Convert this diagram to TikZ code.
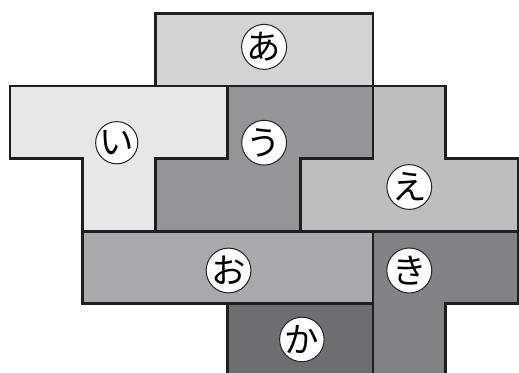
\documentclass[tikz,border=0pt]{standalone}
\usepackage{fontspec}
\newfontfamily\jpfont{Noto Sans CJK JP}
\usepackage{xcolor}
\usepackage{tikz}
\definecolor{shadeA}{HTML}{D1D3D4}
\definecolor{shadeI}{HTML}{E6E7E8}
\definecolor{shadeU}{HTML}{939598}
\definecolor{shadeE}{HTML}{BCBEC0}
\definecolor{shadeO}{HTML}{A7A9AC}
\definecolor{shadeKa}{HTML}{6D6E71}
\definecolor{shadeKi}{HTML}{808285}
\tikzset{
  piece/.style = {draw=black!88, line width=1.1pt, line join=miter},
  tag/.style   = {circle, draw=black!85, line width=0.4pt, fill=white,
                  minimum size=0.54cm, inner sep=0pt,
                  font=\jpfont\fontsize{13.5}{13.5}\selectfont},
}

\begin{document}
\begin{tikzpicture}

  % ── frame ──────────────────────────────────────────────────────────────────
  \useasboundingbox (-0.138,0.186) rectangle (7.011,-4.952);
  \clip (-0.138,0.186) rectangle (7.011,-4.952);

  % ── pieces ─────────────────────────────────────────────────────────────────
  \draw[piece, fill=shadeA]  (2,0) rectangle (5,-1);
  \draw[piece, fill=shadeI]  (0,-1) -- (3,-1) -- (3,-2) -- (2,-2) -- (2,-3)
                             -- (1,-3) -- (1,-2) -- (0,-2) -- cycle;
  \draw[piece, fill=shadeU]  (3,-1) -- (5,-1) -- (5,-2) -- (4,-2) -- (4,-3)
                             -- (2,-3) -- (2,-2) -- (3,-2) -- cycle;
  \draw[piece, fill=shadeE]  (5,-1) -- (6,-1) -- (6,-2) -- (7,-2) -- (7,-3)
                             -- (4,-3) -- (4,-2) -- (5,-2) -- cycle;
  \draw[piece, fill=shadeO]  (1,-3) rectangle (5,-4);
  \draw[piece, fill=shadeKa] (3,-4) rectangle (5,-5.2);
  \draw[piece, fill=shadeKi] (5,-3) -- (7,-3) -- (7,-4) -- (6,-4) -- (6,-5.2)
                             -- (5,-5.2) -- cycle;

  % ── labels ─────────────────────────────────────────────────────────────────
  \node[tag] (a)  at (3.50,-0.46) {あ};
  \node[tag] (i)  at (1.47,-1.78) {い};
  \node[tag] (u)  at (3.50,-1.78) {う};
  \node[tag] (e)  at (5.50,-2.39) {え};
  \node[tag] (o)  at (3.01,-3.54) {お};
  \node[tag] (ki) at (5.50,-3.54) {き};
  \node[tag] (ka) at (4.02,-4.49) {か};

\end{tikzpicture}
\end{document}
